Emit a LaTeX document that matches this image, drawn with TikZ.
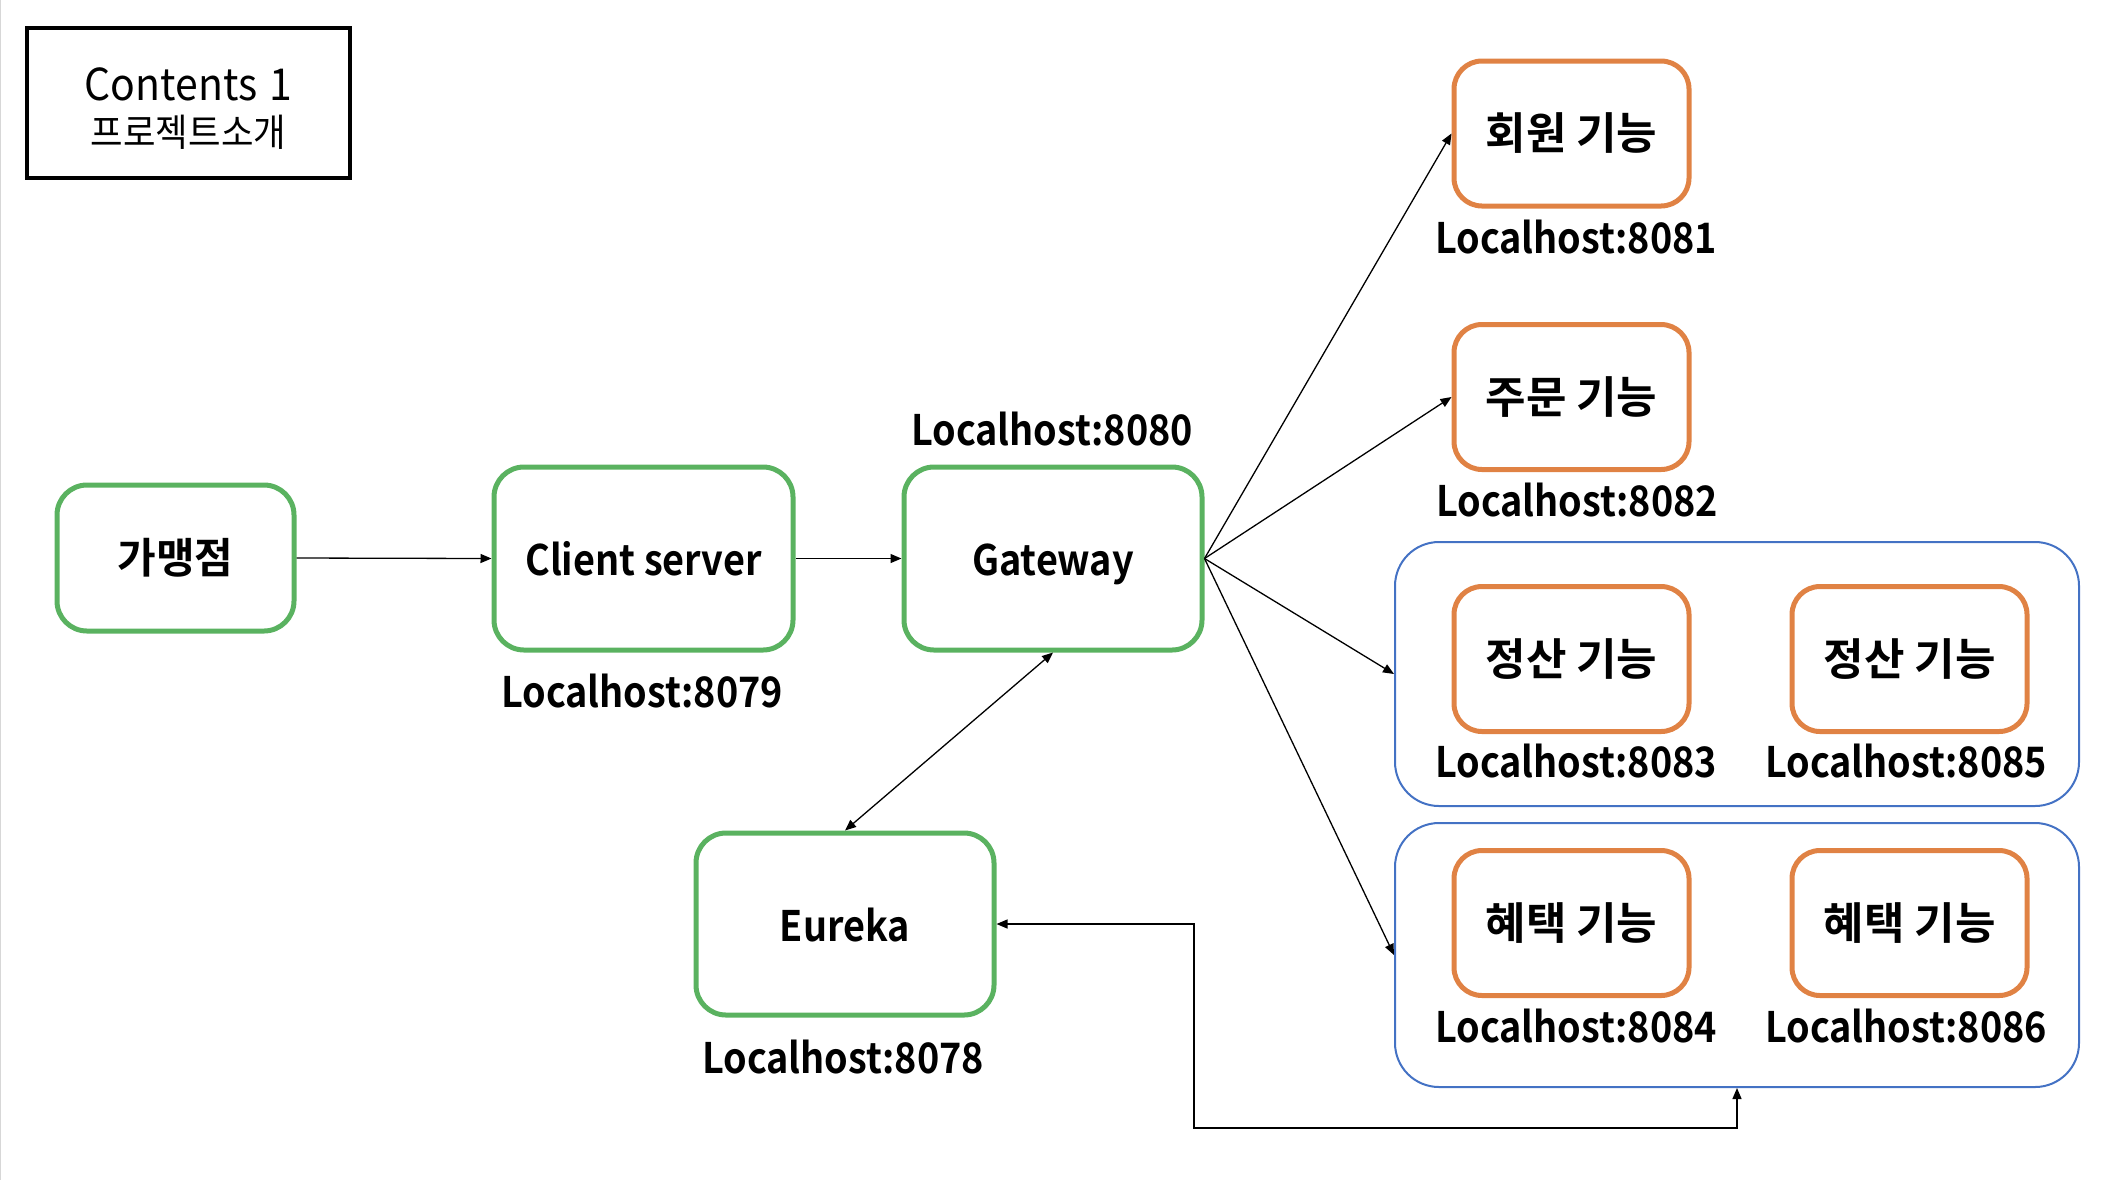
\documentclass[tikz,border=0pt]{standalone}
\usepackage{fontspec}
\setmainfont{Noto Sans CJK KR}[BoldFont={Noto Sans CJK KR Bold}]
\newfontfamily\nfont{Noto Sans CJK KR}[FakeStretch=0.9, BoldFont={Noto Sans CJK KR Bold}]
\newfontfamily\tfont{Noto Sans CJK KR}[FakeStretch=0.93]
\usetikzlibrary{arrows.meta}
\definecolor{gbox}{RGB}{90,178,96}
\definecolor{obox}{RGB}{224,130,68}
\definecolor{bbox}{RGB}{68,114,196}
\definecolor{edge}{RGB}{215,215,215}
\tikzset{
  svc/.style={draw=gbox, line width=2.5pt, rounded corners=15pt, inner sep=0pt,
    font=\nfont\bfseries\fontsize{21}{24}\selectfont},
  latin/.style={text height=17pt, text depth=0pt},
  fbox/.style={draw=obox, line width=2.5pt, rounded corners=14pt, inner sep=0pt,
    minimum width=117.5pt, minimum height=72.5pt,
    font=\bfseries\fontsize{22}{24}\selectfont},
  grp/.style={draw=bbox, line width=1pt, rounded corners=22pt, inner sep=0pt,
    minimum width=342pt, minimum height=132pt},
  port/.style={inner sep=0pt, font=\nfont\bfseries\fontsize{21}{24}\selectfont},
  conn/.style={line width=0.65pt, -{Triangle[length=5.5pt,width=4.5pt]}},
  conn2/.style={line width=0.65pt, {Triangle[length=5.5pt,width=4.5pt]}-{Triangle[length=5.5pt,width=4.5pt]}}
}
\begin{document}
\begin{tikzpicture}[x=0.5pt, y=-0.5pt]
\useasboundingbox (0,0) rectangle (2108,1180);
\draw[edge, line width=0.6pt] (0.6,0) -- (0.6,1180);
% title
\node[draw=black, line width=2pt, minimum width=161.5pt, minimum height=75pt, inner sep=0pt] (title) at (188.5,103) {};
\node[inner sep=0pt, align=center, font=\tfont\fontsize{22}{24}\selectfont] (titletext) at (188.5,109)
  {\raisebox{2pt}{Contents\hspace{1.5pt} 1}\\[-3pt]{\fontsize{19}{20}\selectfont 프로젝트소개}};
% groups
\node[grp] (g1) at (1737,674) {};
\node[grp] (g2) at (1737,955) {};
% green boxes
\node[svc, minimum width=118.5pt, minimum height=73pt, font=\bfseries\fontsize{21}{24}\selectfont] (store) at (175.5,558) {가맹점};
\node[svc, latin, minimum width=149.5pt, minimum height=91.5pt] (client) at (643.5,558.5) {Client server};
\node[svc, latin, minimum width=149pt, minimum height=91.5pt] (gw) at (1053,558.5) {Gateway};
\node[svc, latin, minimum width=149pt, minimum height=91pt] (eureka) at (845,924) {Eureka};
% orange boxes
\node[fbox] (member) at (1571.5,133.5) {회원 기능};
\node[fbox] (order) at (1571.5,397) {주문 기능};
\node[fbox] (settleA) at (1571.5,659) {정산 기능};
\node[fbox] (settleB) at (1909.5,659) {정산 기능};
\node[fbox] (benA) at (1571.5,923) {혜택 기능};
\node[fbox] (benB) at (1909.5,923) {혜택 기능};
% port labels
\node[port] (p8080) at (1052,429) {Localhost:8080};
\node[port] (p8079) at (642,691) {Localhost:8079};
\node[port] (p8078) at (843,1057) {Localhost:8078};
\node[port] (p8081) at (1576,237) {Localhost:8081};
\node[port] (p8082) at (1577,500) {Localhost:8082};
\node[port] (p8083) at (1576,761) {Localhost:8083};
\node[port] (p8085) at (1906,761) {Localhost:8085};
\node[port] (p8084) at (1576,1026) {Localhost:8084};
\node[port] (p8086) at (1906,1026) {Localhost:8086};
% connectors
\draw[conn] (store.east) -- (client.west);
\draw[conn] (client.east) -- (gw.west);
\draw[conn] (gw.east) -- (member.west);
\draw[conn] (gw.east) -- (order.west);
\draw[conn] (gw.east) -- (g1.west);
\draw[conn] (gw.east) -- (g2.west);
\draw[conn2] (gw.south) -- (eureka.north);
\coordinate (b1) at (1194,924);
\coordinate (b2) at (1194,1128);
\coordinate (b3) at (1737,1128);
\draw[conn2] (eureka.east) -- (b1) -- (b2) -- (b3) -- (g2.south);
\end{tikzpicture}
\end{document}
